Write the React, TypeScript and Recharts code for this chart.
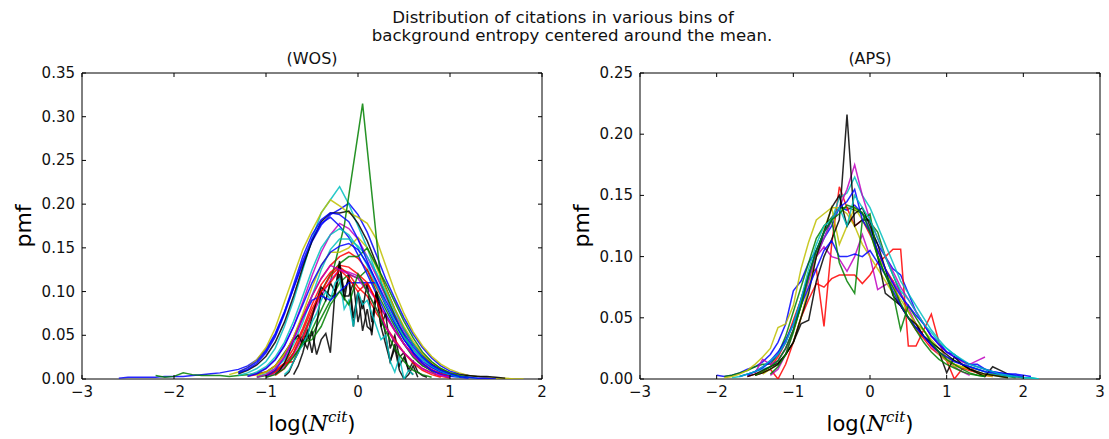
import React from 'react';
import { LineChart, Line, XAxis, YAxis, ReferenceArea } from 'recharts';

// ---------------- DATA ----------------
// WOS panel: each series is a list of pmf values on bins starting at WOS_START[i] with spacing WOS_STEP[i]
const w01 = [0.001,0.002,0.002,0.002,0.002,0.003,0.003,0.003,0.004,0.005,0.006,0.007,0.009,0.011,0.015,0.022,0.034,0.052,0.077,0.104,0.132,0.157,0.176,0.188,0.194,0.201,0.188,0.168,0.142,0.115,0.092,0.07,0.051,0.036,0.024,0.015,0.009,0.006,0.004,0.003,0.002,0.001,0.0];
const w02 = [0.004,0.002,0.003,0.007,0.005,0.004,0.004,0.004,0.003,0.004,0.005,0.006,0.008,0.015,0.03,0.045,0.048,0.05,0.07,0.09,0.11,0.12,0.115,0.125,0.1,0.08,0.06,0.04,0.025,0.015,0.01,0.006,0.004,0.003,0.002];
const w03 = [0.003,0.005,0.008,0.015,0.028,0.048,0.072,0.095,0.115,0.13,0.14,0.145,0.138,0.125,0.105,0.085,0.065,0.048,0.034,0.023,0.015,0.009,0.005,0.003,0.001];
const w04 = [0.004,0.007,0.012,0.02,0.035,0.06,0.09,0.125,0.16,0.19,0.205,0.22,0.2,0.175,0.15,0.12,0.095,0.07,0.05,0.034,0.022,0.014,0.008,0.005,0.003,0.002,0.001];
const w05 = [0.004,0.007,0.012,0.022,0.038,0.06,0.088,0.118,0.145,0.165,0.178,0.172,0.16,0.14,0.118,0.095,0.074,0.055,0.04,0.028,0.018,0.011,0.006,0.003,0.001];
const w06 = [0.005,0.008,0.013,0.022,0.036,0.058,0.088,0.118,0.148,0.17,0.19,0.205,0.198,0.19,0.185,0.178,0.16,0.13,0.1,0.075,0.054,0.038,0.026,0.017,0.011,0.007,0.004,0.003,0.002,0.001,0.001,0.0,0.0];
const w07 = [0.006,0.01,0.016,0.026,0.042,0.065,0.095,0.128,0.158,0.18,0.19,0.19,0.192,0.178,0.158,0.132,0.105,0.08,0.058,0.04,0.027,0.017,0.011,0.007,0.005,0.004,0.003,0.003,0.002,0.001];
const w08 = [0.007,0.011,0.018,0.03,0.048,0.074,0.104,0.135,0.16,0.178,0.185,0.175,0.162,0.142,0.12,0.097,0.075,0.056,0.04,0.027,0.017,0.01,0.006,0.003,0.002,0.001];
const w09 = [0.005,0.02,0.045,0.09,0.175,0.315,0.11,0.06,0.02,0.005];
const w10 = [0.003,0.006,0.012,0.022,0.04,0.065,0.095,0.125,0.148,0.16,0.16,0.152,0.14,0.122,0.1,0.078,0.057,0.04,0.026,0.016,0.009,0.005,0.002];
const w11 = [0.004,0.008,0.015,0.028,0.048,0.075,0.105,0.13,0.145,0.145,0.15,0.162,0.15,0.128,0.104,0.08,0.06,0.043,0.029,0.019,0.012,0.007,0.004];
const w12 = [0.002,0.004,0.008,0.016,0.03,0.05,0.075,0.1,0.12,0.132,0.14,0.14,0.15,0.13,0.11,0.088,0.066,0.047,0.031,0.02,0.012,0.007,0.004,0.002];
const w13 = [0.003,0.008,0.018,0.035,0.058,0.085,0.108,0.122,0.13,0.128,0.12,0.11,0.09,0.072,0.055,0.04,0.028,0.018,0.011,0.006,0.003];
const w14 = [0.002,0.006,0.014,0.028,0.048,0.072,0.095,0.113,0.125,0.122,0.118,0.105,0.09,0.072,0.055,0.04,0.027,0.017,0.01,0.005,0.002];
const w15 = [0.004,0.01,0.018,0.02,0.045,0.075,0.1,0.118,0.128,0.12,0.105,0.095,0.075,0.06,0.042,0.03,0.02,0.012,0.007,0.003,0.001];
const w16 = [0.005,0.01,0.018,0.03,0.045,0.05,0.04,0.055,0.03,0.06,0.1,0.09,0.11,0.1,0.135,0.09,0.12,0.07,0.1,0.08,0.11,0.065,0.1,0.06,0.075,0.035,0.05,0.025,0.03,0.01,0.02,0.008,0.004,0.002];
const w17 = [0.003,0.008,0.02,0.03,0.045,0.035,0.055,0.028,0.045,0.052,0.03,0.1,0.12,0.095,0.095,0.11,0.065,0.09,0.06,0.055,0.1,0.08,0.05,0.02,0.035,0.01,0.0,0.005,0.015,0.002];
const w18 = [0.005,0.015,0.03,0.05,0.07,0.09,0.105,0.1,0.095,0.095,0.13,0.1,0.115,0.06,0.1,0.055,0.08,0.05,0.1,0.06,0.04,0.02,0.04,0.015,0.025,0.01,0.005];
const w19 = [0.005,0.01,0.02,0.03,0.04,0.05,0.065,0.075,0.09,0.1,0.09,0.11,0.115,0.08,0.09,0.06,0.1,0.085,0.09,0.075,0.06,0.045,0.05,0.02,0.008,0.025,0.0,0.01,0.005];
const w20 = [0.003,0.01,0.025,0.045,0.07,0.09,0.095,0.09,0.1,0.11,0.11,0.11,0.11,0.085,0.065,0.045,0.03,0.018,0.01,0.005,0.002];
const w21 = [0.004,0.012,0.03,0.055,0.08,0.1,0.11,0.125,0.115,0.1,0.11,0.09,0.06,0.045,0.03,0.018,0.01,0.005,0.002];
const w22 = [0.002,0.005,0.012,0.025,0.045,0.07,0.095,0.115,0.13,0.125,0.12,0.115,0.1,0.08,0.06,0.043,0.03,0.02,0.012,0.007,0.004,0.002];
const w23 = [0.002,0.005,0.012,0.025,0.042,0.045,0.06,0.085,0.1,0.085,0.12,0.1,0.08,0.055,0.035,0.02,0.01,0.005,0.002];
const w24 = [0.008,0.013,0.02,0.032,0.05,0.076,0.108,0.14,0.165,0.182,0.19,0.188,0.18,0.16,0.135,0.11,0.085,0.063,0.045,0.031,0.02,0.013,0.008,0.005,0.003,0.002,0.001,0.001,0.0];
const w25 = [0.004,0.008,0.014,0.025,0.042,0.066,0.095,0.125,0.15,0.165,0.172,0.165,0.15,0.13,0.108,0.086,0.066,0.048,0.034,0.023,0.015,0.009,0.005,0.003,0.001];
const w26 = [0.003,0.006,0.012,0.022,0.038,0.06,0.085,0.11,0.13,0.145,0.152,0.155,0.148,0.132,0.112,0.09,0.07,0.052,0.037,0.025,0.016,0.01,0.006,0.003,0.001];

const WOS_SERIES = [w01, w02, w03, w04, w05, w06, w07, w08, w09, w10, w11, w12, w13, w14, w15, w16, w17, w18, w19, w20, w21, w22, w23, w24, w25, w26];
const WOS_START = [-2.6, -2.2, -1.2, -1.3, -1.2, -1.4, -1.3, -1.3, -0.95, -1.1, -1.1, -1.1, -1.0, -1.0, -1.0, -0.9, -0.8, -0.7, -0.8, -1.0, -0.9, -1.1, -1.0, -1.3, -1.2, -1.2];
const WOS_STEP = [0.1, 0.1, 0.1, 0.1, 0.1, 0.1, 0.1, 0.1, 0.2, 0.1, 0.1, 0.1, 0.1, 0.1, 0.1, 0.05, 0.05, 0.05, 0.05, 0.1, 0.1, 0.1, 0.1, 0.1, 0.1, 0.1];
const WOS_KIND = ['b', 'g', 'r', 'c', 'm', 'y', 'k', 'b', 'g', 'c', 'y', 'g', 'r', 'm', 'r', 'k', 'k', 'k', 'c', 'b', 'r', 'm', 'g', 'b', 'c', 'b'];

// APS panel
const a01 = [0.003,0.002,0.003,0.005,0.008,0.01,0.014,0.02,0.03,0.045,0.072,0.08,0.095,0.105,0.115,0.125,0.14,0.138,0.142,0.135,0.122,0.11,0.1,0.09,0.085,0.07,0.055,0.045,0.035,0.03,0.022,0.02,0.015,0.012,0.012,0.008,0.006,0.005,0.004,0.004,0.003,0.002];
const a02 = [0.002,0.003,0.005,0.007,0.01,0.012,0.012,0.02,0.035,0.055,0.075,0.095,0.115,0.125,0.132,0.14,0.14,0.138,0.135,0.128,0.12,0.1,0.085,0.07,0.055,0.045,0.035,0.028,0.022,0.018,0.015,0.012,0.01,0.008,0.006,0.004,0.003,0.002,0.001];
const a03 = [0.002,0.004,0.006,0.01,0.018,0.03,0.048,0.065,0.085,0.09,0.043,0.11,0.157,0.14,0.125,0.13,0.118,0.105,0.09,0.08,0.06,0.05,0.04,0.033,0.025,0.02,0.015,0.012,0.009,0.007,0.005,0.003,0.002];
const a04 = [0.003,0.005,0.008,0.0,0.012,0.03,0.05,0.065,0.078,0.075,0.082,0.085,0.085,0.085,0.078,0.085,0.095,0.1,0.106,0.106,0.027,0.027,0.04,0.053,0.03,0.015,0.0,0.008,0.01,0.005,0.002];
const a05 = [0.001,0.002,0.004,0.006,0.008,0.01,0.015,0.025,0.04,0.06,0.082,0.1,0.115,0.13,0.148,0.152,0.165,0.15,0.14,0.125,0.11,0.095,0.08,0.07,0.06,0.05,0.04,0.032,0.025,0.02,0.015,0.01,0.008,0.006,0.004,0.003,0.002,0.002,0.001,0.001,0.0];
const a06 = [0.005,0.016,0.012,0.015,0.025,0.04,0.06,0.08,0.1,0.115,0.13,0.14,0.155,0.175,0.15,0.13,0.115,0.1,0.088,0.075,0.065,0.055,0.045,0.035,0.028,0.022,0.018,0.014,0.012,0.015,0.018];
const a07 = [0.003,0.008,0.02,0.04,0.065,0.085,0.1,0.108,0.1,0.098,0.088,0.1,0.118,0.1,0.073,0.077,0.08,0.07,0.058,0.045,0.035,0.027,0.02,0.015,0.01,0.006,0.003];
const a08 = [0.001,0.002,0.004,0.007,0.012,0.018,0.025,0.042,0.045,0.06,0.09,0.112,0.13,0.135,0.14,0.14,0.135,0.125,0.11,0.1,0.09,0.08,0.07,0.06,0.05,0.045,0.04,0.03,0.02,0.015,0.01,0.01,0.008,0.006,0.004,0.003,0.002,0.001];
const a09 = [0.004,0.008,0.012,0.02,0.03,0.05,0.075,0.1,0.122,0.14,0.11,0.125,0.14,0.13,0.12,0.1,0.09,0.075,0.065,0.055,0.045,0.04,0.032,0.025,0.018,0.012,0.01,0.008,0.005,0.003,0.002];
const a10 = [0.002,0.004,0.007,0.01,0.013,0.02,0.03,0.045,0.048,0.08,0.1,0.114,0.13,0.216,0.125,0.13,0.13,0.1,0.07,0.065,0.06,0.05,0.042,0.035,0.028,0.022,0.005,0.018,0.012,0.008,0.005,0.002,0.01,0.007,0.004,0.002,0.001];
const a11 = [0.003,0.005,0.008,0.012,0.02,0.03,0.05,0.07,0.1,0.12,0.14,0.15,0.125,0.135,0.14,0.125,0.11,0.09,0.068,0.06,0.05,0.045,0.035,0.03,0.025,0.02,0.015,0.012,0.008,0.006,0.004,0.003,0.002,0.001];
const a12 = [0.002,0.004,0.006,0.01,0.015,0.022,0.032,0.045,0.06,0.075,0.09,0.105,0.113,0.1,0.1,0.102,0.1,0.105,0.095,0.085,0.072,0.06,0.05,0.042,0.035,0.028,0.022,0.018,0.014,0.012,0.01,0.008,0.006,0.005,0.004,0.003,0.002];
const a13 = [0.004,0.01,0.02,0.038,0.06,0.085,0.105,0.12,0.13,0.095,0.08,0.07,0.13,0.135,0.1,0.085,0.07,0.04,0.06,0.05,0.04,0.03,0.022,0.016,0.012,0.008,0.005,0.003,0.002];
const a14 = [0.003,0.006,0.009,0.014,0.02,0.03,0.045,0.065,0.085,0.105,0.12,0.13,0.14,0.145,0.155,0.13,0.12,0.105,0.09,0.078,0.068,0.06,0.052,0.045,0.035,0.028,0.022,0.018,0.015,0.012,0.01,0.008,0.006,0.005,0.004,0.003,0.002];
const a15 = [0.002,0.004,0.006,0.01,0.015,0.02,0.03,0.045,0.065,0.09,0.11,0.125,0.13,0.14,0.125,0.15,0.14,0.13,0.115,0.1,0.085,0.072,0.065,0.055,0.045,0.038,0.03,0.025,0.02,0.016,0.012,0.01,0.008,0.006,0.004,0.003,0.002,0.001,0.001,0.0];
const a16 = [0.003,0.006,0.01,0.015,0.025,0.04,0.06,0.085,0.105,0.12,0.13,0.135,0.142,0.14,0.136,0.12,0.1,0.085,0.075,0.062,0.05,0.04,0.03,0.022,0.016,0.012,0.009,0.006,0.004,0.003,0.002];

const APS_SERIES = [a01, a02, a03, a04, a05, a06, a07, a08, a09, a10, a11, a12, a13, a14, a15, a16];
const APS_START = [-2.0, -1.9, -1.6, -1.5, -1.8, -1.5, -1.3, -1.9, -1.4, -1.6, -1.5, -1.7, -1.3, -1.6, -1.7, -1.5];
const APS_STEP = [0.1, 0.1, 0.1, 0.1, 0.1, 0.1, 0.1, 0.1, 0.1, 0.1, 0.1, 0.1, 0.1, 0.1, 0.1, 0.1];
const APS_KIND = ['b', 'g', 'r', 'r', 'c', 'm', 'm', 'y', 'y', 'k', 'k', 'b', 'g', 'b', 'c', 'g'];

const WOS_XTICKS = [-3, -2, -1, 0, 1, 2];
const WOS_YTICKS = [0, 0.05, 0.1, 0.15, 0.2, 0.25, 0.3, 0.35];
const APS_XTICKS = [-3, -2, -1, 0, 1, 2, 3];
const APS_YTICKS = [0, 0.05, 0.1, 0.15, 0.2, 0.25];

const TITLE_LINES = ['Distribution of citations in various bins of', 'background entropy centered around the mean.'];

// ---------------- STYLE ----------------
const COLORS: Record<string, string> = {
  b: '#0000ff', g: '#008000', r: '#ff0000', c: '#00bfbf', m: '#bf00bf', y: '#bfbf00', k: '#000000',
};
const PLOT_W = 460;
const PLOT_H = 306;
const FONT = '"DejaVu Sans", sans-serif';
const MATH = '"DejaVu Serif", serif';

function toPoints(values: number[], start: number, step: number) {
  return values.map((y, j) => ({ x: Math.round((start + j * step) * 1000) / 1000, y }));
}

const fmtX = (v: number) => (v < 0 ? '\u2212' + Math.abs(v) : String(v));
const fmtY = (v: number) => v.toFixed(2);

const XTick = (props: any) => {
  const { x, y, payload } = props;
  return (
    <g>
      <line x1={x} x2={x} y1={y} y2={y - 4} stroke="#000" strokeWidth={1} />
      <line x1={x} x2={x} y1={y - PLOT_H} y2={y - PLOT_H + 4} stroke="#000" strokeWidth={1} />
      <text x={x} y={y + 18} textAnchor="middle" fontSize={15} fontFamily={FONT} fill="#111">
        {fmtX(payload.value)}
      </text>
    </g>
  );
};

const YTick = (props: any) => {
  const { x, y, payload } = props;
  return (
    <g>
      <line x1={x} x2={x + 4} y1={y} y2={y} stroke="#000" strokeWidth={1} />
      <line x1={x + PLOT_W} x2={x + PLOT_W - 4} y1={y} y2={y} stroke="#000" strokeWidth={1} />
      <text x={x - 7} y={y + 5} textAnchor="end" fontSize={15} fontFamily={FONT} fill="#111">
        {fmtY(payload.value)}
      </text>
    </g>
  );
};

function Panel(props: {
  series: number[][]; starts: number[]; steps: number[]; kinds: string[];
  xTicks: number[]; yTicks: number[]; width: number; marginLeft: number; marginRight: number;
}) {
  const { series, starts, steps, kinds, xTicks, yTicks, width, marginLeft, marginRight } = props;
  const xDom: [number, number] = [xTicks[0], xTicks[xTicks.length - 1]];
  const yDom: [number, number] = [yTicks[0], yTicks[yTicks.length - 1]];
  return (
    <LineChart width={width} height={439} margin={{ top: 73, right: marginRight, bottom: 30, left: marginLeft }}>
      <XAxis
        type="number" dataKey="x" domain={xDom} ticks={xTicks} allowDataOverflow
        axisLine={false} tickLine={false} tickSize={0} tickMargin={0} height={30}
        tick={<XTick />} interval={0}
      />
      <YAxis
        type="number" domain={yDom} ticks={yTicks} allowDataOverflow
        axisLine={false} tickLine={false} tickSize={0} tickMargin={0} width={50}
        tick={<YTick />} interval={0}
      />
      {series.map((vals, i) => (
        <Line
          key={i}
          data={toPoints(vals, starts[i], steps[i])}
          dataKey="y"
          type="linear"
          stroke={COLORS[kinds[i]]}
          strokeWidth={1.5}
          strokeOpacity={0.85}
          dot={false}
          activeDot={false}
          isAnimationActive={false}
        />
      ))}
      <ReferenceArea x1={xDom[0]} x2={xDom[1]} y1={yDom[0]} y2={yDom[1]} fill="none" stroke="#000" strokeWidth={1} ifOverflow="visible" />
    </LineChart>
  );
}

function XLabel({ cx }: { cx: number }) {
  return (
    <text x={cx} y={431} textAnchor="middle" fontSize={21} fontFamily={FONT} fill="#000">
      log(
      <tspan fontFamily={MATH} fontStyle="italic" fontSize={22}>N</tspan>
      <tspan fontFamily={MATH} fontStyle="italic" fontSize={15} dy={-9}>cit</tspan>
      <tspan dy={9}>)</tspan>
    </text>
  );
}

export default function App() {
  return (
    <div style={{ position: 'absolute', left: 0, top: 0, width: 1109, height: 439, background: '#fff', overflow: 'hidden' }}>
      <div style={{ position: 'absolute', left: 0, top: 0 }}>
        <Panel series={WOS_SERIES} starts={WOS_START} steps={WOS_STEP} kinds={WOS_KIND}
          xTicks={WOS_XTICKS} yTicks={WOS_YTICKS} width={560} marginLeft={32} marginRight={18} />
      </div>
      <div style={{ position: 'absolute', left: 560, top: 0 }}>
        <Panel series={APS_SERIES} starts={APS_START} steps={APS_STEP} kinds={APS_KIND}
          xTicks={APS_XTICKS} yTicks={APS_YTICKS} width={549} marginLeft={30} marginRight={9} />
      </div>
      <svg width={1109} height={439} style={{ position: 'absolute', left: 0, top: 0, pointerEvents: 'none' }}>
        <text x={563} y={23} textAnchor="middle" fontSize={16.6} fontFamily={FONT} fill="#111">{TITLE_LINES[0]}</text>
        <text x={572} y={41} textAnchor="middle" fontSize={16.6} fontFamily={FONT} fill="#111">{TITLE_LINES[1]}</text>
        <text x={312} y={64} textAnchor="middle" fontSize={16} fontFamily={FONT} fill="#111">(WOS)</text>
        <text x={870} y={64} textAnchor="middle" fontSize={16} fontFamily={FONT} fill="#111">(APS)</text>
        <XLabel cx={312} />
        <XLabel cx={870} />
        <text transform="translate(31,226) rotate(-90)" textAnchor="middle" fontSize={22} fontFamily={FONT} fill="#000">pmf</text>
        <text transform="translate(589,226) rotate(-90)" textAnchor="middle" fontSize={22} fontFamily={FONT} fill="#000">pmf</text>
      </svg>
    </div>
  );
}
